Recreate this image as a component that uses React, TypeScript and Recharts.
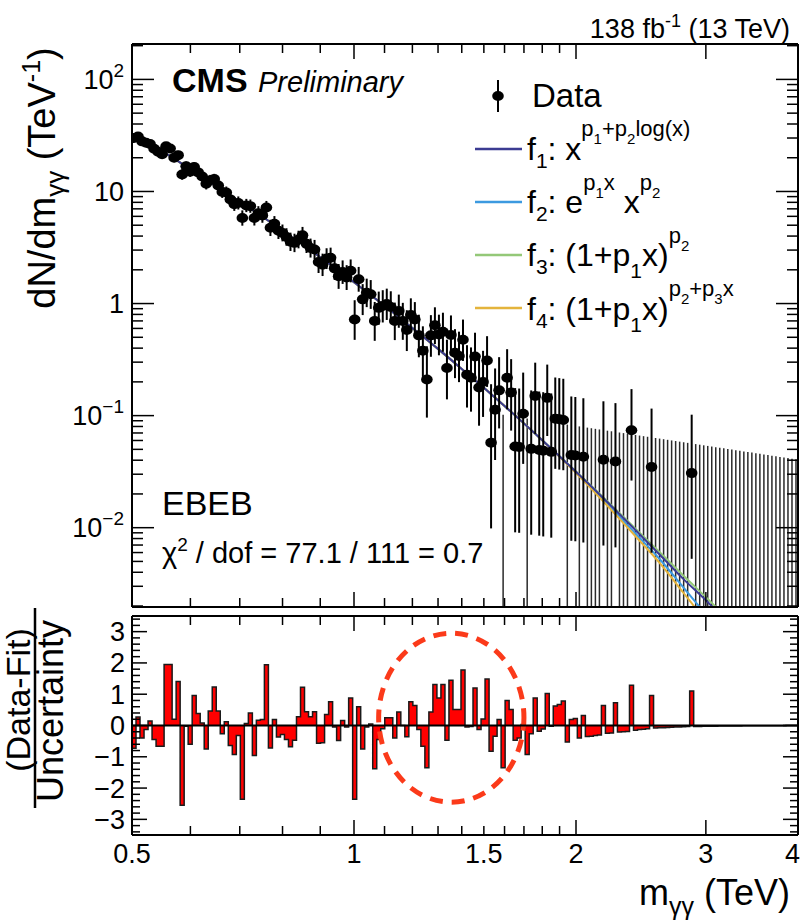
import React from "react";
import {
  ComposedChart,
  Line,
  Scatter,
  ErrorBar,
  Area,
  XAxis,
  YAxis,
  ReferenceLine,
  ReferenceArea,
} from "recharts";

const FONT = "'Liberation Sans', Arial, Helvetica, sans-serif";
const INK = "#000";

// histogram binning (TeV), log-uniform bins
const M_MIN = 0.5;
const M_MAX = 4;
const N_BINS = 166;
// dN/dm of one event in a bin times the bin mass
const ONE_EVENT = 0.088;
// 68% CL upper limit for an empty bin, in events
const EMPTY_UPPER = 1.84;

const Y_MIN = 0.00196;
const Y_MAX = 207;
const PULL_MIN = -3.5;
const PULL_MAX = 3.5;

// dN/dm per bin (TeV^-1), null = no events
const density: (number | null)[] = [
  30.0, 30.9, 28.0, 27.2, 26.5, 24.1, 22.6, 21.5, 25.3, 24.2,
  20.0, 21.1, 14.2, 16.8, 15.0, 16.5, 14.8, 13.6, 11.7, 12.6,
  12.9, 11.3, 9.9, 9.8, 8.5, 7.7, 7.9, 5.8, 7.5, 7.4,
  5.8, 6.4, 6.1, 7.2, 4.74, 5.15, 4.47, 4.27, 3.93, 3.56,
  3.48, 3.73, 4.07, 3.41, 3.13, 3.04, 2.35, 2.22, 2.52, 2.56,
  2.06, 1.75, 1.91, 1.71, 1.96, 0.72, 1.65, 1.09, 1.25, 1.21,
  0.70, 0.915, 0.95, 0.99, 0.93, 0.70, 0.86, 0.70, 0.58, 0.79,
  0.72, 0.52, 0.38, 0.21, 0.52, 0.64, 0.53, 0.56, 0.266, 0.525,
  0.364, 0.341, 0.476, 0.232, 0.218, 0.337, 0.178, 0.20, 0.31, 0.0574,
  0.113, 0.168, null, 0.218, 0.161, 0.053, 0.0525, 0.104, null, 0.0505,
  0.150, 0.0494, 0.0487, 0.144, 0.0475, 0.094, 0.0927, 0.0915, null, 0.0446,
  0.0441, null, 0.043, null, null, null, null, 0.0404, null, null,
  0.0389, null, null, null, 0.074, null, null, null, null, 0.0348,
  null, null, null, null, null, null, null, null, null, 0.0307,
];

// (Data-Fit)/Uncertainty per bin
const pulls = [
  -0.73, 0.27, -0.40, -0.13, 0.14, -0.45, -0.66, -0.66, 1.95, 1.95,
  0.20, 1.41, -2.55, -0.02, -0.60, 0.96, 0.38, 0.08, -0.75, 0.46,
  1.23, 0.46, -0.26, 0.12, -0.64, -0.93, -0.32, -2.36, 0.06, 0.40,
  -0.96, 0.17, 0.19, 1.94, -0.72, 0.19, -0.37, -0.29, -0.45, -0.68,
  -0.47, 0.28, 1.22, 0.44, 0.28, 0.44, -0.57, -0.55, 0.35, 0.76,
  -0.05, -0.48, 0.16, -0.05, 0.88, -2.36, 0.60, -0.75, -0.05, 0.05,
  -1.38, -0.45, -0.10, 0.25, 0.25, -0.40, 0.43, 0.0, -0.36, 0.76,
  0.64, -0.13, -0.66, -1.35, 0.43, 1.31, 0.88, 1.31, -0.47, 1.45,
  0.51, 0.51, 1.77, -0.05, -0.03, 1.20, -0.13, 0.21, 1.49, -0.82,
  -0.34, 0.19, -1.35, 0.80, 0.51, -0.47, -0.40, 0.03, -0.93, -0.26,
  0.88, -0.18, -0.11, 1.02, -0.02, 0.62, 0.67, 0.78, -0.53, 0.19,
  0.22, -0.40, 0.32, -0.35, -0.34, -0.32, -0.30, 0.64, -0.25, -0.24,
  0.73, -0.21, -0.20, -0.19, 1.29, -0.15, -0.13, -0.12, -0.10, 0.96,
  -0.08, -0.075, -0.07, -0.06, -0.055, -0.05, -0.045, -0.04, -0.035, 1.10,
  -0.03, -0.028, -0.026, -0.024, -0.022, -0.02, -0.018, -0.016, -0.015, -0.014,
  -0.013, -0.012, -0.011, -0.01, -0.009, -0.008, -0.007, -0.006, -0.006, -0.005,
  -0.005, -0.004, -0.004, -0.003, -0.003, -0.003,
];

// fit curves
const fitMass = [0.5, 0.55, 0.6, 0.7, 0.8, 0.9, 1.0, 1.1, 1.2, 1.3, 1.4, 1.5, 1.6, 1.8, 2.0, 2.2, 2.4, 2.6, 2.8, 3.0, 3.2];
const fitF1 = [32.5, 22.8, 15.8, 8.11, 4.49, 2.59, 1.55, 0.956, 0.606, 0.394, 0.261, 0.177, 0.122, 0.0603, 0.0315, 0.0172, 0.00974, 0.00571, 0.00346, 0.00225, 0.00145];
const fitF2 = [32.5, 22.8, 15.8, 8.11, 4.49, 2.59, 1.55, 0.956, 0.606, 0.394, 0.261, 0.177, 0.122, 0.0603, 0.0312, 0.0166, 0.0091, 0.0052, 0.0029, 0.00168, 0.00098];
const fitF3 = [32.5, 22.8, 15.8, 8.11, 4.49, 2.59, 1.55, 0.956, 0.606, 0.394, 0.261, 0.177, 0.122, 0.0604, 0.0317, 0.0175, 0.0100, 0.0060, 0.0037, 0.0024, 0.00158];
const fitF4 = [32.5, 22.8, 15.8, 8.11, 4.49, 2.59, 1.55, 0.956, 0.606, 0.394, 0.261, 0.177, 0.122, 0.0601, 0.0307, 0.0160, 0.0086, 0.0048, 0.0026, 0.00145, 0.00080];

const fitColors = { f1: "#3b3b92", f2: "#3c9ae0", f3: "#94c878", f4: "#e4b43c" };

const xLabelTicks = [0.5, 1, 1.5, 2, 3, 4];
const xMajorTicks = [1, 2, 3];
const xMinorTicks = [0.6, 0.7, 0.8, 0.9, 1.1, 1.2, 1.3, 1.4, 1.5, 1.6, 1.7, 1.8, 1.9];
const xTicks = Array.from(new Set([...xLabelTicks, ...xMajorTicks, ...xMinorTicks])).sort((a, b) => a - b);

const yDecades = [0.01, 0.1, 1, 10, 100];
const yDecadeLabels = [["10", "−2"], ["10", "−1"], ["1", ""], ["10", ""], ["10", "2"]];
const yLogTicks: number[] = [...yDecades];
for (const d of [0.001, 0.01, 0.1, 1, 10, 100]) {
  for (let i = 2; i <= 9; i++) {
    const v = +(d * i).toPrecision(3);
    if (v > Y_MIN && v < Y_MAX) yLogTicks.push(v);
  }
}
yLogTicks.sort((a, b) => a - b);

const pullLabelTicks = [-3, -2, -1, 0, 1, 2, 3];
const pullTicks: number[] = [];
for (let i = -17; i <= 17; i++) pullTicks.push((i * 2) / 10);

const binEdge = (k: number) => M_MIN * Math.pow(M_MAX / M_MIN, k / N_BINS);
const binCenter = (k: number) => Math.sqrt(binEdge(k) * binEdge(k + 1));

// data points with Poisson (Gehrels) error bars
const dataPoints = density.flatMap((d, k) => {
  if (d == null) return [];
  const m = binCenter(k);
  const n = Math.max(1, (d * m) / ONE_EVENT);
  const lower = n * Math.pow(1 - 1 / (9 * n) - 1 / (3 * Math.sqrt(n)), 3);
  const upper = n + Math.sqrt(n + 0.75) + 1;
  const s = d / n;
  return [{ m, y: d, err: [(n - lower) * s, (upper - n) * s] }];
});

// empty bins: only an upper error bar from zero
const emptyBins: { m: number; y: number; err: number[] }[] = [];
for (let k = 0; k < N_BINS; k++) {
  if (density[k] != null) continue;
  const m = binCenter(k);
  const top = (EMPTY_UPPER * ONE_EVENT) / m;
  emptyBins.push({ m, y: top, err: [top - Y_MIN * 1.0005, 0] });
}

const pullSteps = pulls.map((p, k) => ({ m: binEdge(k), p }));
pullSteps.push({ m: M_MAX, p: pulls[pulls.length - 1] });

const fitSeries = (vals: number[]) => fitMass.map((m, i) => ({ m, y: vals[i] }));

const axisLine = { stroke: INK, strokeWidth: 2 };

function xTick(side: "top" | "bottom", labelled: boolean) {
  return (props: any) => {
    const { x, y, payload } = props;
    const v = payload.value as number;
    const len = xMajorTicks.includes(v) ? 15 : xMinorTicks.includes(v) ? 9 : 0;
    const dir = side === "bottom" ? -1 : 1;
    // the last label sits on the frame corner; keep it inside the page
    const last = v === M_MAX;
    return (
      <g>
        {len > 0 && <line x1={x} x2={x} y1={y} y2={y + dir * len} stroke={INK} strokeWidth={1.5} />}
        {labelled && xLabelTicks.includes(v) && (
          <text
            x={last ? x + 2 : x}
            y={y + 28}
            textAnchor={last ? "end" : "middle"}
            fontSize={27}
            fontFamily={FONT}
            fill={INK}
          >
            {v}
          </text>
        )}
      </g>
    );
  };
}

function yLogTick(side: "left" | "right", labelled: boolean) {
  return (props: any) => {
    const { x, y, payload } = props;
    const v = payload.value as number;
    const i = yDecades.indexOf(v);
    const len = i >= 0 ? 22 : 11;
    const dir = side === "left" ? 1 : -1;
    return (
      <g>
        <line x1={x} x2={x + dir * len} y1={y} y2={y} stroke={INK} strokeWidth={1.5} />
        {labelled && i >= 0 && (
          <text x={x - 8} y={y + 9.5} textAnchor="end" fontSize={27} fontFamily={FONT} fill={INK}>
            {yDecadeLabels[i][0]}
            {yDecadeLabels[i][1] && (
              <tspan dy={-12} fontSize={19}>
                {yDecadeLabels[i][1]}
              </tspan>
            )}
          </text>
        )}
      </g>
    );
  };
}

function pullTick(side: "left" | "right", labelled: boolean) {
  return (props: any) => {
    const { x, y, payload } = props;
    const v = payload.value as number;
    const major = pullLabelTicks.includes(v);
    const len = major ? 15 : 8;
    const dir = side === "left" ? 1 : -1;
    return (
      <g>
        <line x1={x} x2={x + dir * len} y1={y} y2={y} stroke={INK} strokeWidth={1.5} />
        {labelled && major && (
          <text x={x - 7} y={y + 9.5} textAnchor="end" fontSize={27} fontFamily={FONT} fill={INK}>
            {v < 0 ? `−${-v}` : v}
          </text>
        )}
      </g>
    );
  };
}

// shared axis props; each axis gets a small nonzero size so it renders
const massAxis = {
  dataKey: "m",
  type: "number" as const,
  scale: "log" as const,
  domain: [M_MIN, M_MAX],
  allowDataOverflow: true,
  ticks: xTicks,
  interval: 0,
  height: 2,
  tickSize: 0,
  tickMargin: 0,
  tickLine: false,
  axisLine,
};

function MassSpectrum() {
  const yAxis = {
    type: "number" as const,
    scale: "log" as const,
    domain: [Y_MIN, Y_MAX],
    allowDataOverflow: true,
    ticks: yLogTicks,
    interval: 0,
    tickSize: 0,
    tickMargin: 0,
    tickLine: false,
    axisLine,
  };
  return (
    <ComposedChart width={801} height={620} margin={{ top: 42, right: 1, bottom: 11, left: 72 }}>
      <XAxis xAxisId="x" {...massAxis} tick={xTick("bottom", false)} />
      <XAxis xAxisId="xt" orientation="top" {...massAxis} tick={xTick("top", false)} />
      <YAxis yAxisId="y" {...yAxis} width={60} tick={yLogTick("left", true)} />
      <YAxis yAxisId="yr" orientation="right" {...yAxis} width={2} tick={yLogTick("right", false)} />
      <Scatter xAxisId="x" yAxisId="y" data={emptyBins} dataKey="y" shape={() => <g />} isAnimationActive={false}>
        <ErrorBar dataKey="err" direction="y" width={0} stroke="#2a2a2a" strokeWidth={1.5} />
      </Scatter>
      <Line xAxisId="x" yAxisId="y" data={fitSeries(fitF2)} dataKey="y" type="monotone" stroke={fitColors.f2} strokeWidth={2} dot={false} isAnimationActive={false} />
      <Line xAxisId="x" yAxisId="y" data={fitSeries(fitF3)} dataKey="y" type="monotone" stroke={fitColors.f3} strokeWidth={2} dot={false} isAnimationActive={false} />
      <Line xAxisId="x" yAxisId="y" data={fitSeries(fitF4)} dataKey="y" type="monotone" stroke={fitColors.f4} strokeWidth={2} dot={false} isAnimationActive={false} />
      <Line xAxisId="x" yAxisId="y" data={fitSeries(fitF1)} dataKey="y" type="monotone" stroke={fitColors.f1} strokeWidth={2} dot={false} isAnimationActive={false} />
      <Scatter
        xAxisId="x"
        yAxisId="y"
        data={dataPoints}
        dataKey="y"
        isAnimationActive={false}
        shape={(p: any) => <ellipse cx={p.cx} cy={p.cy} rx={5.8} ry={5} fill={INK} />}
      >
        <ErrorBar dataKey="err" direction="y" width={0} stroke={INK} strokeWidth={2} />
      </Scatter>
    </ComposedChart>
  );
}

function PullPanel() {
  const yAxis = {
    type: "number" as const,
    domain: [PULL_MIN, PULL_MAX],
    allowDataOverflow: true,
    ticks: pullTicks,
    interval: 0,
    tickSize: 0,
    tickMargin: 0,
    tickLine: false,
    axisLine,
  };
  return (
    <ComposedChart width={801} height={320} margin={{ top: 14, right: 1, bottom: 83, left: 72 }}>
      <XAxis xAxisId="x" {...massAxis} tick={xTick("bottom", true)} />
      <XAxis xAxisId="xt" orientation="top" {...massAxis} tick={xTick("top", false)} />
      <YAxis yAxisId="y" {...yAxis} width={60} tick={pullTick("left", true)} />
      <YAxis yAxisId="yr" orientation="right" {...yAxis} width={2} tick={pullTick("right", false)} />
      <Area
        xAxisId="x"
        yAxisId="y"
        data={pullSteps}
        dataKey="p"
        type="stepAfter"
        baseValue={0}
        fill="#ff0000"
        fillOpacity={1}
        stroke="#1a1a1a"
        strokeWidth={1.5}
        isAnimationActive={false}
      />
      <ReferenceLine xAxisId="x" yAxisId="y" y={0} stroke={INK} strokeWidth={1.8} />
      <ReferenceArea
        xAxisId="x"
        yAxisId="y"
        x1={1.08}
        x2={1.7}
        y1={-2.45}
        y2={2.95}
        shape={(p: any) => (
          <ellipse
            cx={p.x + p.width / 2}
            cy={p.y + p.height / 2}
            rx={Math.abs(p.width) / 2}
            ry={Math.abs(p.height) / 2}
            fill="none"
            stroke="#fb3a1a"
            strokeWidth={5}
            strokeDasharray="13 9"
          />
        )}
      />
    </ComposedChart>
  );
}

function Annotations() {
  const t = { fontFamily: FONT, fill: INK };
  return (
    <svg width={801} height={920} style={{ position: "absolute", left: 0, top: 0, pointerEvents: "none" }}>
      <text x={790} y={38} textAnchor="end" fontSize={27} {...t}>
        138 fb<tspan dy={-11} fontSize={18}>-1</tspan>
        <tspan dy={11}> (13 TeV)</tspan>
      </text>
      <text x={172} y={92} fontSize={34} fontWeight="bold" {...t}>CMS</text>
      <text x={258} y={92} fontSize={29} fontStyle="italic" {...t}>Preliminary</text>

      <line x1={498} x2={498} y1={80} y2={112} stroke={INK} strokeWidth={2} />
      <ellipse cx={498} cy={96} rx={5.8} ry={5} fill={INK} />
      <text x={532} y={107} fontSize={33} {...t}>Data</text>

      <line x1={475} x2={522} y1={149} y2={149} stroke={fitColors.f1} strokeWidth={2.5} />
      <text x={527} y={160} fontSize={32} {...t}>
        f<tspan y={168} fontSize={21}>1</tspan>
        <tspan y={160}>: x</tspan>
        <tspan y={136} fontSize={22}>p</tspan>
        <tspan y={144} fontSize={15}>1</tspan>
        <tspan y={136} fontSize={22}>+p</tspan>
        <tspan y={144} fontSize={15}>2</tspan>
        <tspan y={136} fontSize={22}>log(x)</tspan>
      </text>

      <line x1={475} x2={522} y1={202} y2={202} stroke={fitColors.f2} strokeWidth={2.5} />
      <text x={527} y={213} fontSize={32} {...t}>
        f<tspan y={221} fontSize={21}>2</tspan>
        <tspan y={213}>: e</tspan>
        <tspan y={190} fontSize={22}>p</tspan>
        <tspan y={198} fontSize={15}>1</tspan>
        <tspan y={190} fontSize={22}>x</tspan>
        <tspan y={213}> x</tspan>
        <tspan y={190} fontSize={22}>p</tspan>
        <tspan y={198} fontSize={15}>2</tspan>
      </text>

      <line x1={475} x2={522} y1={255} y2={255} stroke={fitColors.f3} strokeWidth={2.5} />
      <text x={527} y={266} fontSize={32} {...t}>
        f<tspan y={274} fontSize={21}>3</tspan>
        <tspan y={266}>: (1+p</tspan>
        <tspan y={278} fontSize={21}>1</tspan>
        <tspan y={266}>x)</tspan>
        <tspan y={243} fontSize={22}>p</tspan>
        <tspan y={251} fontSize={15}>2</tspan>
      </text>

      <line x1={475} x2={522} y1={308} y2={308} stroke={fitColors.f4} strokeWidth={2.5} />
      <text x={527} y={320} fontSize={32} {...t}>
        f<tspan y={328} fontSize={21}>4</tspan>
        <tspan y={320}>: (1+p</tspan>
        <tspan y={332} fontSize={21}>1</tspan>
        <tspan y={320}>x)</tspan>
        <tspan y={296} fontSize={22}>p</tspan>
        <tspan y={304} fontSize={15}>2</tspan>
        <tspan y={296} fontSize={22}>+p</tspan>
        <tspan y={304} fontSize={15}>3</tspan>
        <tspan y={296} fontSize={22}>x</tspan>
      </text>

      <text x={162} y={515} fontSize={34} {...t}>EBEB</text>
      <text x={162} y={563} fontSize={29} {...t}>
        χ<tspan dy={-12} fontSize={19}>2</tspan>
        <tspan dy={12}> / dof = 77.1 / 111 = 0.7</tspan>
      </text>

      <text transform="translate(55,178) rotate(-90)" textAnchor="middle" fontSize={38} {...t}>
        dN/dm<tspan dy={9} fontSize={26}>γγ</tspan>
        <tspan dy={-9}> (TeV</tspan>
        <tspan dy={-15} fontSize={25}>-1</tspan>
        <tspan dy={15}>)</tspan>
      </text>

      <text transform="translate(30,700) rotate(-90)" textAnchor="middle" fontSize={34} {...t}>(Data-Fit)</text>
      <line x1={35} x2={35} y1={608} y2={808} stroke={INK} strokeWidth={2.5} />
      <text transform="translate(63,711) rotate(-90)" textAnchor="middle" fontSize={36} {...t}>Uncertainty</text>

      <text x={790} y={905} textAnchor="end" fontSize={36} {...t}>
        m<tspan dy={10} fontSize={25}>γγ</tspan>
        <tspan dy={-10}> (TeV)</tspan>
      </text>
    </svg>
  );
}

export default function App() {
  return (
    <div style={{ position: "absolute", left: 0, top: 0, width: 801, height: 920, background: "#fff", overflow: "hidden" }}>
      <div style={{ position: "absolute", left: 0, top: 0 }}>
        <MassSpectrum />
      </div>
      <div style={{ position: "absolute", left: 0, top: 600 }}>
        <PullPanel />
      </div>
      <Annotations />
    </div>
  );
}
